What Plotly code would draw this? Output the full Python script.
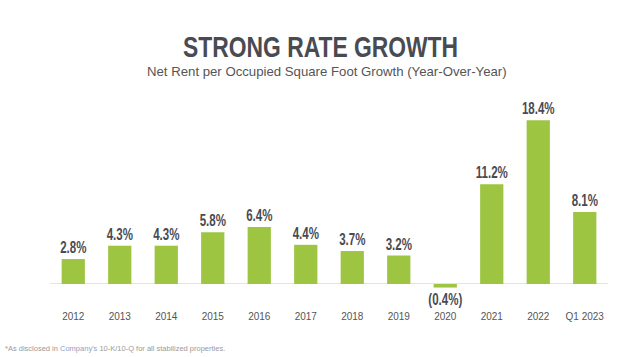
import plotly.graph_objects as go

categories = ["2012", "2013", "2014", "2015", "2016", "2017", "2018", "2019",
              "2020", "2021", "2022", "Q1 2023"]
growth = [2.8, 4.3, 4.3, 5.8, 6.4, 4.4, 3.7, 3.2, -0.4, 11.2, 18.4, 8.1]
labels = ["2.8%", "4.3%", "4.3%", "5.8%", "6.4%", "4.4%", "3.7%", "3.2%",
          "(0.4%)", "11.2%", "18.4%", "8.1%"]

W, H = 640, 357
ML, MR, MT, MB = 50, 32, 100, 48
PW, PH = W - ML - MR, H - MT - MB


def px(x, y):
    return (x - ML) / PW, 1 - (y - MT) / PH


sans = "Liberation Sans, Arial, sans-serif"

fig = go.Figure(go.Bar(
    x=categories, y=growth, text=labels, textposition="outside",
    marker=dict(color="#9DC542", line=dict(width=0)),
    textfont=dict(family=sans, size=16, color="#4a4a52", weight="bold"),
    cliponaxis=False, constraintext="none", width=0.5,
))

tx, ty = px(320, 46)
sx, sy = px(327, 71.5)
fx, fy = px(3, 348)

fig.update_layout(
    width=W, height=H,
    margin=dict(l=ML, r=MR, t=MT, b=MB),
    paper_bgcolor="white", plot_bgcolor="white",
    showlegend=False,
    xaxis=dict(showgrid=False, showline=False, ticks="",
               tickfont=dict(family=sans, size=10, color="#555555"),
               range=[-0.5, 11.5]),
    yaxis=dict(visible=True, showticklabels=False, showgrid=False, showline=False,
               zeroline=True, zerolinecolor="#e4e4e4", zerolinewidth=1,
               range=[-2.81, 20.67]),
    annotations=[
        dict(text="STRONG RATE GROWTH", x=tx, y=ty, xref="paper", yref="paper",
             showarrow=False, yanchor="middle",
             font=dict(family=sans, size=30, color="#4a4a52", weight="bold")),
        dict(text="Net Rent per Occupied Square Foot Growth (Year-Over-Year)",
             x=sx, y=sy, xref="paper", yref="paper", showarrow=False, yanchor="middle",
             font=dict(family=sans, size=13.2, color="#555555")),
        dict(text="*As disclosed in <span style='color:#8f9fc2'>Company's</span> 10-K/10-Q for all stabilized properties.",
             x=fx, y=fy, xref="paper", yref="paper", showarrow=False,
             xanchor="left", yanchor="middle",
             font=dict(family=sans, size=7.5, color="#9a9a9a")),
    ],
)

post = """
document.body.style.margin = '0';
document.body.style.padding = '0';
var gd = document.getElementById('{plot_id}');
function squeeze(el, target) {
  var w = el.getComputedTextLength();
  el.setAttribute('lengthAdjust', 'spacingAndGlyphs');
  el.setAttribute('textLength', target === null ? w * 0.72 : target);
}
gd.querySelectorAll('text.bartext').forEach(function(t){ squeeze(t, null); });
gd.querySelectorAll('text.annotation-text').forEach(function(t){
  if (t.textContent === 'STRONG RATE GROWTH') squeeze(t, 275);
});
"""

fig.write_html("out.html", post_script=post, config={"displayModeBar": False})
